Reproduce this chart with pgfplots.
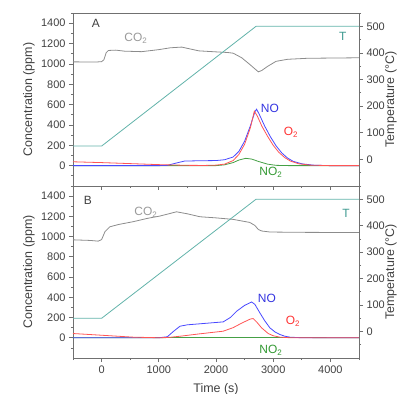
\documentclass[border=0pt]{standalone}
\usepackage{fontspec}
\setmainfont{Liberation Sans}
\usepackage{pgfplots}
\pgfplotsset{compat=1.18}
\definecolor{axgray}{HTML}{707070}
\definecolor{labgray}{HTML}{404040}
\definecolor{cotwo}{HTML}{8C8C8C}
\definecolor{cotwolab}{HTML}{9A9A9A}
\definecolor{tcol}{HTML}{62B3AA}
\definecolor{tlab}{HTML}{3E9A90}
\definecolor{nocol}{HTML}{4848FF}
\definecolor{nolab}{HTML}{3333E0}
\definecolor{otwo}{HTML}{FF5555}
\definecolor{otwolab}{HTML}{FF3333}
\definecolor{notwo}{HTML}{45A045}
\definecolor{notwolab}{HTML}{339933}

\tikzset{lbl/.style={font=\fontsize{12}{14}\selectfont, anchor=center}}

\pgfplotsset{
  base/.style={
    width=286bp, scale only axis,
    xmin=-500, xmax=4500,
    tick align=outside,
    major tick length=4bp, minor tick length=2bp,
    axis line style={draw=axgray, line width=0.9bp},
    every tick/.style={draw=axgray, line width=0.7bp},
    tick label style={font=\fontsize{11}{13}\selectfont, text=labgray},
    label style={font=\fontsize{12.5}{14}\selectfont, text=labgray},
    /pgf/number format/assume math mode=true,
    /pgf/number format/1000 sep={},
  },
  leftax/.style={base,
    ymin=-200, ymax=1500,
    ytick={0,200,...,1400}, minor ytick={-100,100,...,1500},
    xtick={0,1000,...,4000}, minor xtick={-500,500,...,4500},
    xtick pos=bottom, ytick pos=left,
    ylabel={Concentration (ppm)},
    ylabel style={at={(axis description cs:-0.1538,0.5)}, anchor=center},
  },
  rightax/.style={base,
    ymin=-100, ymax=550,
    axis y line*=right, axis x line=none,
    ytick={0,100,...,500}, minor ytick={-50,50,...,550},
    ylabel={Temperature (\textdegree C)},
    ylabel style={at={(axis description cs:1.1119,0.5)}, anchor=center},
  },
}

\pgfplotstableread{
t T
-500 50
0 50
2700 500
4500 500
}\Ttab

\pgfplotstableread{
t c
-500 1020
-100 1018
0 1022
40 1040
80 1110
120 1132
250 1135
400 1125
700 1120
1000 1140
1200 1158
1400 1165
1700 1128
2000 1118
2200 1112
2300 1105
2450 1060
2600 990
2740 922
2800 935
2900 975
3050 1025
3250 1045
3600 1055
4500 1060
}\COtwoA

\pgfplotstableread{
t c
-500 0
1000 0
1150 3
1300 25
1450 45
1700 48
2000 50
2150 58
2300 85
2400 140
2500 240
2600 390
2680 530
2710 555
2760 500
2850 390
2950 285
3050 195
3150 125
3250 75
3350 42
3500 18
3700 5
4000 0
4500 0
}\NOA

\pgfplotstableread{
t c
-500 38
-200 33
0 30
500 20
1000 10
1500 3
1800 2
2000 5
2150 15
2300 50
2400 110
2500 210
2600 370
2670 535
2720 490
2800 390
2900 290
3000 200
3100 130
3200 80
3300 45
3450 18
3650 5
4000 0
4500 0
}\OtwoA

\pgfplotstableread{
t c
-500 0
2000 0
2150 8
2300 30
2400 55
2520 72
2620 65
2750 40
2900 15
3050 3
3300 0
4500 0
}\NOtwoA

\pgfplotstableread{
t c
-500 968
-200 962
-60 955
0 970
60 1050
145 1097
300 1120
550 1147
800 1180
1020 1203
1310 1245
1500 1225
1720 1196
2000 1185
2300 1170
2590 1140
2680 1110
2740 1070
2800 1055
2950 1045
3500 1042
4500 1040
}\COtwoB

\pgfplotstableread{
t c
-500 0
1000 0
1150 10
1250 60
1370 114
1500 128
1718 138
2126 157
2250 200
2360 262
2500 320
2622 354
2680 330
2767 246
2850 170
2942 98
3030 58
3117 32
3200 16
3290 6
3500 0
4500 0
}\NOB

\pgfplotstableread{
t c
-500 42
-30 26
550 6
1020 0
1200 5
1370 15
1718 39
2126 65
2300 100
2450 145
2600 185
2650 190
2720 150
2797 98
2913 42
3000 20
3117 6
3300 0
4500 0
}\OtwoB

\pgfplotstableread{
t c
-500 0
1500 2
3000 3
4500 0
}\NOtwoB

\begin{document}
\begin{tikzpicture}
\path[use as bounding box] (-73bp,-36bp) rectangle (328bp,358bp);

% ---------- top panel ----------
\begin{axis}[leftax, at={(0,172bp)}, height=173bp, xticklabels={}]
  \addplot[cotwo, line width=0.8bp] table[x=t,y=c] {\COtwoA};
  \addplot[notwo, line width=0.8bp] table[x=t,y=c] {\NOtwoA};
  \addplot[nocol, line width=0.8bp] table[x=t,y=c] {\NOA};
  \addplot[otwo, line width=0.8bp] table[x=t,y=c] {\OtwoA};
  \node[lbl, text=labgray] at (axis cs:-100,1400) {A};
  \node[lbl, text=cotwolab] at (axis cs:600,1252) {CO\textsubscript{2}};
  \node[lbl, text=tlab] at (axis cs:4218,1272) {T};
  \node[lbl, text=nolab] at (axis cs:2942,566) {NO};
  \node[lbl, text=otwolab] at (axis cs:3310,330) {O\textsubscript{2}};
  \node[lbl, text=notwolab] at (axis cs:2960,-62) {NO\textsubscript{2}};
\end{axis}
\begin{axis}[rightax, at={(0,172bp)}, height=173bp]
  \addplot[tcol, line width=0.8bp] table[x=t,y=T] {\Ttab};
\end{axis}

% ---------- bottom panel ----------
\begin{axis}[leftax, at={(0,0)}, height=172bp,
  xlabel={Time (s)},
  xlabel style={at={(axis description cs:0.5,0)}, yshift=-31bp, anchor=center}]
  \addplot[cotwo, line width=0.8bp] table[x=t,y=c] {\COtwoB};
  \addplot[notwo, line width=0.8bp] table[x=t,y=c] {\NOtwoB};
  \addplot[nocol, line width=0.8bp] table[x=t,y=c] {\NOB};
  \addplot[otwo, line width=0.8bp] table[x=t,y=c] {\OtwoB};
  \node[lbl, text=labgray] at (axis cs:-240,1360) {B};
  \node[lbl, text=cotwolab] at (axis cs:775,1242) {CO\textsubscript{2}};
  \node[lbl, text=tlab] at (axis cs:4271,1232) {T};
  \node[lbl, text=nolab] at (axis cs:2890,386) {NO};
  \node[lbl, text=otwolab] at (axis cs:3345,160) {O\textsubscript{2}};
  \node[lbl, text=notwolab] at (axis cs:2960,-125) {NO\textsubscript{2}};
\end{axis}
\begin{axis}[rightax, at={(0,0)}, height=172bp]
  \addplot[tcol, line width=0.8bp] table[x=t,y=T] {\Ttab};
\end{axis}
\end{tikzpicture}
\end{document}
